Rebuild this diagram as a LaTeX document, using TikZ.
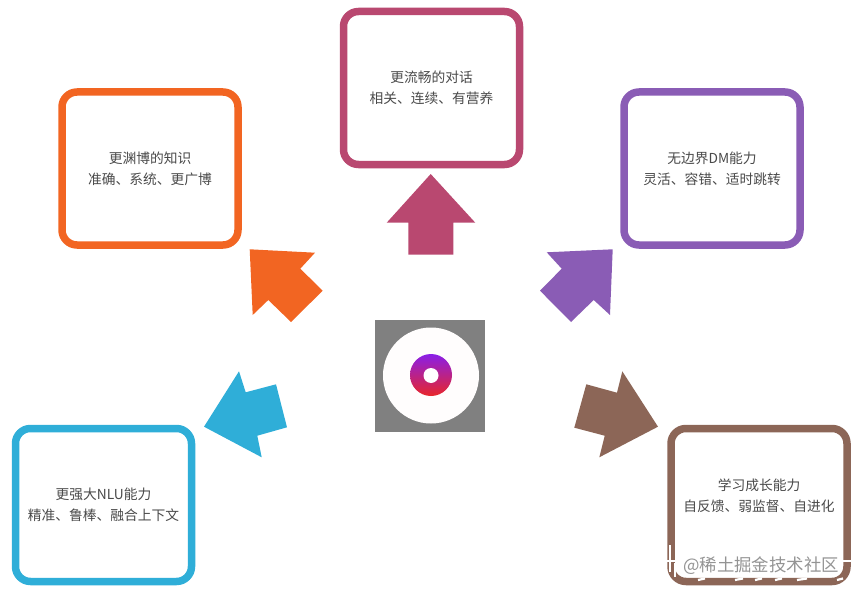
\documentclass[tikz,border=0pt]{standalone}
\usepackage{fontspec}
\newfontfamily\cjk{Noto Sans CJK SC}
\definecolor{cOrange}{HTML}{F26522}
\definecolor{cPink}{HTML}{B94870}
\definecolor{cPurple}{HTML}{8A5CB5}
\definecolor{cBlue}{HTML}{2FAED8}
\definecolor{cBrown}{HTML}{8C6657}
\definecolor{cText}{HTML}{4A4A4A}
\definecolor{cTop}{HTML}{8A1FE8}
\definecolor{cBot}{HTML}{E8262A}
\tikzset{
  card/.style={draw=#1,line width=7.5pt,rounded corners=15pt,fill=white,minimum width=176pt,minimum height=153pt,inner sep=0pt,
    text=cText,align=center,font=\cjk\fontsize{13.75}{21}\selectfont},
  arrowshape/.style={fill=#1,draw=none},
  scrap/.style={white,line width=2.2pt},
}
\begin{document}
\begin{tikzpicture}[x=1pt,y=-1pt]
\useasboundingbox (0,0) rectangle (860,594);
\node[card=cOrange] (know) at (150,168.5) {更渊博的知识\\准确、系统、更广博};
\node[card=cPink] (talk) at (431.5,88) {更流畅的对话\\相关、连续、有营养};
\node[card=cPurple] (dm) at (712,168.5) {无边界DM能力\\灵活、容错、适时跳转};
\node[card=cBlue] (nlu) at (103.5,505) {更强大NLU能力\\精准、鲁棒、融合上下文};
\node[card=cBrown] (grow) at (759,505) {};
\node[text=cText,align=center,font=\cjk\fontsize{13.75}{21}\selectfont] (growtext) at (759,496) {学习成长能力\\自反馈、弱监督、自进化};
% arrows
\fill[arrowshape=cOrange] (249.7,249.3)--(315,252.7)--(300.3,268.7)--(322.7,290.7)--(291,322)--(268.3,300)--(252.7,315)--cycle;
\fill[arrowshape=cPink] (430.7,174)--(475.3,222.7)--(453.3,222.7)--(453.3,254.7)--(408.3,254.7)--(408.3,222.7)--(386.7,222.7)--cycle;
\fill[arrowshape=cPurple] (612.7,249.3)--(610,315)--(593.7,300)--(571,322)--(540,290.7)--(561.7,268.7)--(546.7,252.3)--cycle;
\fill[arrowshape=cBlue] (204,426.7)--(239,371.3)--(245.7,392.3)--(276,384.3)--(287,427.3)--(257.3,435.7)--(261.7,457.3)--cycle;
\fill[arrowshape=cBrown] (658,426.7)--(599.3,457.3)--(604.7,435.7)--(574.3,427.7)--(586.3,384.3)--(617,392.7)--(622.3,371.3)--cycle;
% centre image
\fill[fill=black!50] (375,320) rectangle (485,432);
\fill[fill=white!97!pink] (431,375.5) circle (48);
\shade[top color=cTop,bottom color=cBot] (431,375) circle (21);
\fill[white] (431,375.5) circle (7.5);
% watermark
\draw[scrap] (670,545) -- (670,572);
\draw[scrap] (667,561) -- (677,561);
\draw[scrap] (675,563) -- (675,577);
\draw[scrap] (842,561) -- (851,561);
\foreach \a/\b in {698/705,735/743,755/762,775/782,797/807,837/843}
  \draw[scrap] (\a,580) -- (\b,578.5);
\node[font=\cjk\fontsize{17.4}{20}\selectfont,text=black!42,inner sep=0pt] (mark) at (761,566) {@稀土掘金技术社区};
\end{tikzpicture}
\end{document}
